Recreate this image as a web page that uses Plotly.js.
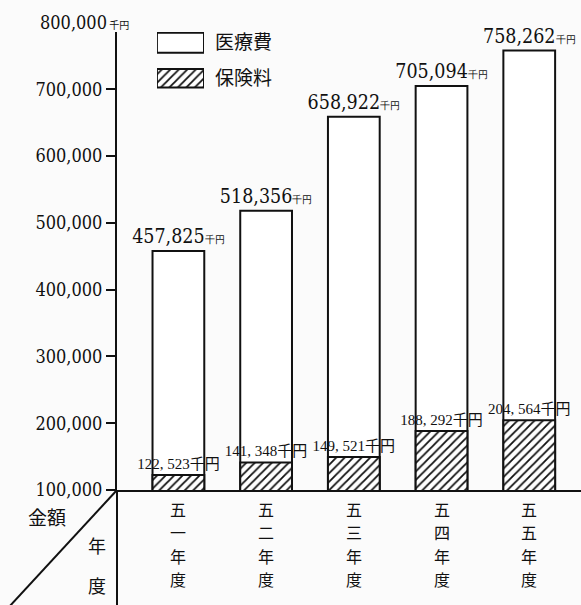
<!DOCTYPE html>
<html>
<head>
<meta charset="utf-8">
<script src="https://cdn.plot.ly/plotly-3.0.1.min.js"></script>
<style>html,body{margin:0;padding:0;background:#fbfbfb;}</style>
</head>
<body>
<div id="chart" style="width:581px;height:605px;"></div>
<script>
const years = ['五一年度', '五二年度', '五三年度', '五四年度', '五五年度'];
const medicalCost = [457825, 518356, 658922, 705094, 758262];
const premium = [122523, 141348, 149521, 188292, 204564];
const yTickVals = [100000, 200000, 300000, 400000, 500000, 600000, 700000];
const yTickText = ['100,000', '200,000', '300,000', '400,000', '500,000', '600,000', '700,000'];
const seriesNames = ['医療費', '保険料'];

const numFont = 'DejaVu Serif Condensed, DejaVu Serif, serif';
const serif = 'Liberation Serif, Noto Sans CJK JP, serif';
const cjk = 'Noto Sans CJK JP, sans-serif';
const ink = '#111';

const premiumText = premium.map(v => v.toLocaleString('en-US').replace(',', ', ') + '千円');
const hatch = {shape: '/', fgcolor: ink, bgcolor: '#ffffff', size: 6, solidity: 0.3};

const traces = [
  {
    type: 'bar', name: seriesNames[0], x: years, y: medicalCost, width: 0.59,
    marker: {color: '#ffffff', line: {color: ink, width: 2}},
    texttemplate: "%{y:,}<span style='font-size:10px'>千円</span>",
    textposition: 'outside', cliponaxis: false, constraintext: 'none',
    textfont: {family: numFont, size: 19.5, color: ink},
    hoverinfo: 'skip', showlegend: false
  },
  {
    type: 'bar', name: seriesNames[1], x: years, y: premium, width: 0.59,
    marker: {color: '#ffffff', line: {color: ink, width: 2}, pattern: hatch},
    text: premiumText, texttemplate: '%{text}',
    textposition: 'outside', cliponaxis: false, constraintext: 'none',
    textfont: {family: serif, size: 15, color: ink},
    hoverinfo: 'skip', showlegend: false
  },
  // legend keys, drawn as library bars on a small inset axis
  {
    type: 'bar', orientation: 'h', x: [1], y: [seriesNames[0]], width: 0.56,
    xaxis: 'x2', yaxis: 'y2',
    marker: {color: '#ffffff', line: {color: ink, width: 2}},
    hoverinfo: 'skip', showlegend: false
  },
  {
    type: 'bar', orientation: 'h', x: [1], y: [seriesNames[1]], width: 0.52,
    xaxis: 'x2', yaxis: 'y2',
    marker: {color: '#ffffff', line: {color: ink, width: 2}, pattern: hatch},
    hoverinfo: 'skip', showlegend: false
  }
];

// vertical (tategaki) category labels: one annotation per character
const tickAnnotations = [];
years.forEach(function (yr) {
  yr.split('').forEach(function (ch, j) {
    tickAnnotations.push({
      text: ch, xref: 'x', yref: 'paper', x: yr, y: 0,
      xanchor: 'center', yanchor: 'middle', yshift: -(19 + j * 23.4),
      showarrow: false, font: {family: cjk, size: 16, color: ink}
    });
  });
});

const layout = {
  width: 581, height: 605,
  margin: {l: 117, r: 0, t: 32, b: 115},
  paper_bgcolor: '#fbfbfb', plot_bgcolor: '#fbfbfb',
  barmode: 'overlay',
  showlegend: false,
  xaxis: {
    type: 'category', range: [-0.7, 4.59],
    showticklabels: false,
    showline: true, linecolor: ink, linewidth: 2,
    showgrid: false, zeroline: false, ticks: '', fixedrange: true
  },
  yaxis: {
    range: [100000, 786000],
    tickvals: yTickVals, ticktext: yTickText,
    tickfont: {family: numFont, size: 18, color: ink},
    ticks: 'outside', ticklen: 9, tickwidth: 2, tickcolor: ink,
    showline: true, linecolor: ink, linewidth: 2,
    showgrid: false, zeroline: false, fixedrange: true
  },
  xaxis2: {
    domain: [0.086, 0.1875], anchor: 'y2', range: [0, 1],
    visible: false, fixedrange: true
  },
  yaxis2: {
    domain: [0.86, 1.0], anchor: 'x2', type: 'category', range: [1.5, -0.3],
    side: 'right', ticks: '', showline: false, showgrid: false, zeroline: false,
    ticklabelstandoff: 10,
    tickfont: {family: cjk, size: 19, color: ink}, fixedrange: true
  },
  annotations: [
    {text: "800,000<span style='font-size:10px;font-family:Noto Sans CJK JP'> 千円</span>",
      xref: 'paper', yref: 'paper', x: 0, y: 1.0204,
      xanchor: 'right', yanchor: 'middle', xshift: 14, showarrow: false,
      font: {family: numFont, size: 18, color: ink}},
    {text: '金額', xref: 'paper', yref: 'paper', x: -0.15, y: -0.058, xanchor: 'center', yanchor: 'middle',
      showarrow: false, font: {family: cjk, size: 19, color: ink}},
    {text: '年', xref: 'paper', yref: 'paper', x: -0.043, y: -0.12, xanchor: 'center', yanchor: 'middle',
      showarrow: false, font: {family: cjk, size: 18, color: ink}},
    {text: '度', xref: 'paper', yref: 'paper', x: -0.043, y: -0.207, xanchor: 'center', yanchor: 'middle',
      showarrow: false, font: {family: cjk, size: 18, color: ink}}
  ].concat(tickAnnotations),
  shapes: [
    {type: 'line', xref: 'paper', yref: 'paper', x0: 0, y0: 0, x1: 0, y1: -0.26,
      line: {color: ink, width: 2}},
    {type: 'line', xref: 'paper', yref: 'paper', x0: 0, y0: 0, x1: -0.237, y1: -0.26,
      line: {color: ink, width: 2}}
  ]
};

Plotly.newPlot('chart', traces, layout, {displayModeBar: false, staticPlot: true});
</script>
</body>
</html>
